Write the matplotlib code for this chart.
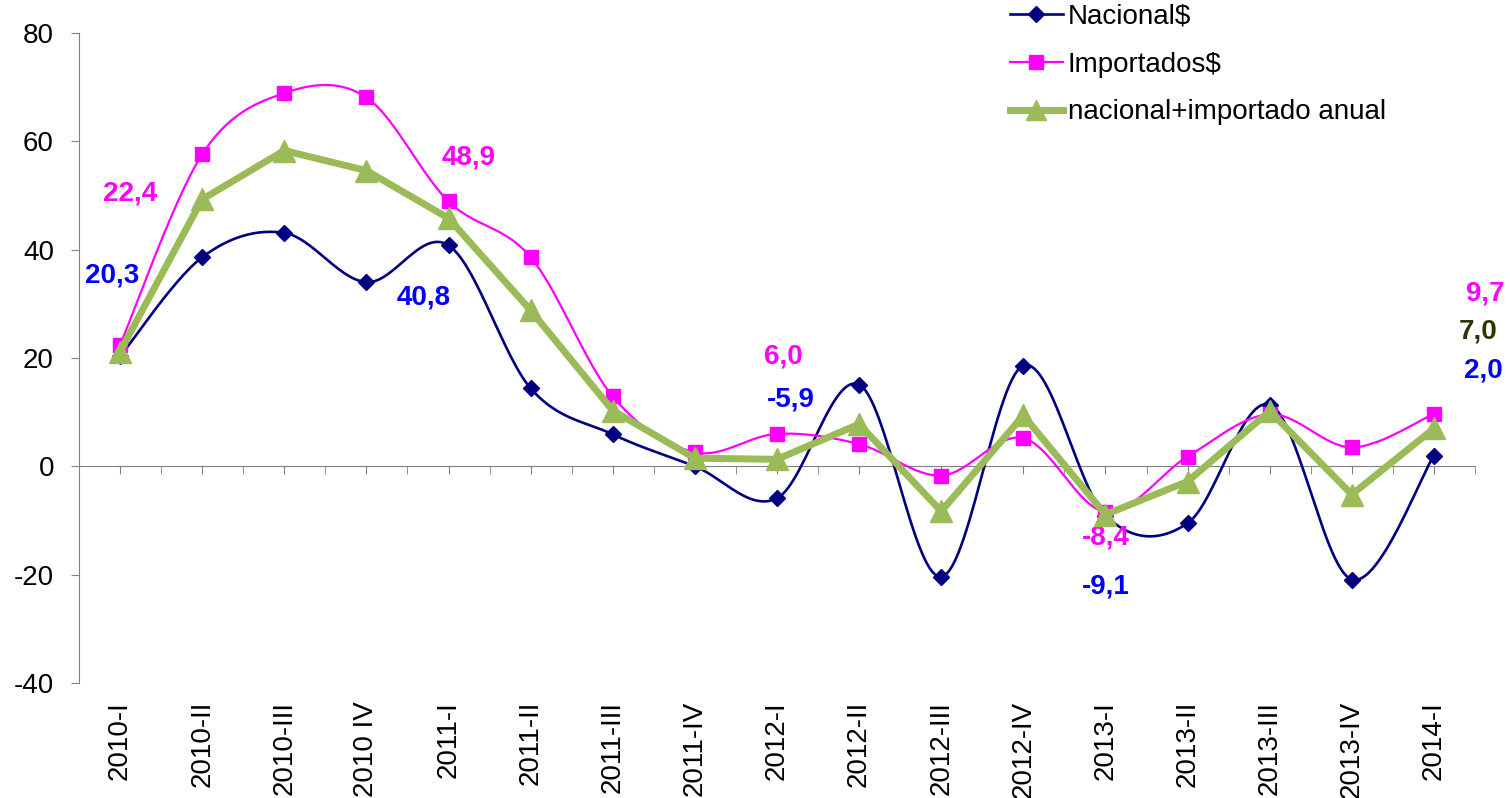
import matplotlib
matplotlib.use("Agg")
from matplotlib import pyplot as plt
import numpy as np

plt.rcParams['font.family'] = ['Liberation Sans', 'DejaVu Sans']
plt.rcParams['axes.unicode_minus'] = False

quarters = ["2010-I", "2010-II", "2010-III", "2010 IV", "2011-I", "2011-II", "2011-III",
            "2011-IV", "2012-I", "2012-II", "2012-III", "2012-IV", "2013-I", "2013-II",
            "2013-III", "2013-IV", "2014-I"]
nacional = [20.3, 38.6, 43.1, 34.0, 40.8, 14.4, 5.9, 0.0, -5.9, 15.1, -20.4, 18.6,
            -9.1, -10.5, 11.4, -20.9, 2.0]
importados = [22.4, 57.6, 68.9, 68.1, 48.9, 38.6, 12.9, 2.6, 6.0, 4.1, -1.7, 5.2,
              -8.4, 1.8, 9.6, 3.5, 9.7]
anual = [21.2, 49.3, 58.3, 54.6, 45.8, 28.8, 10.3, 1.5, 1.3, 7.8, -8.3, 9.4,
         -8.9, -2.8, 10.2, -5.2, 7.0]

# value labels: (index, text, x offset, y position) in data units
labels_nac = [(0, "20,3", -0.1, 35.3), (4, "40,8", -0.3, 31.2), (8, "-5,9", 0.17, 12.4),
              (12, "-9,1", 0.0, -22.2), (16, "2,0", 0.6, 17.7)]
labels_imp = [(0, "22,4", 0.12, 50.4), (4, "48,9", 0.25, 57.0), (8, "6,0", 0.08, 20.3),
              (12, "-8,4", 0.0, -13.1), (16, "9,7", 0.62, 31.9)]
labels_anu = [(16, "7,0", 0.54, 24.9)]


def excel_smooth(y, n=30):
    # Excel-like smoothed line: cubic bezier with catmull-rom control points
    x = np.arange(len(y), dtype=float)
    y = np.asarray(y, dtype=float)
    xs, ys = [], []
    for i in range(len(y) - 1):
        x0, y0 = x[i], y[i]
        x3, y3 = x[i + 1], y[i + 1]
        xp, yp = (x[i - 1], y[i - 1]) if i > 0 else (x0, y0)
        xn, yn = (x[i + 2], y[i + 2]) if i + 2 < len(y) else (x3, y3)
        x1, y1 = x0 + (x3 - xp) / 6, y0 + (y3 - yp) / 6
        x2, y2 = x3 - (xn - x0) / 6, y3 - (yn - y0) / 6
        t = np.linspace(0, 1, n)
        xs.append((1 - t)**3 * x0 + 3 * (1 - t)**2 * t * x1 + 3 * (1 - t) * t**2 * x2 + t**3 * x3)
        ys.append((1 - t)**3 * y0 + 3 * (1 - t)**2 * t * y1 + 3 * (1 - t) * t**2 * y2 + t**3 * y3)
    return np.concatenate(xs), np.concatenate(ys)


fig = plt.figure(figsize=(15.1, 7.98), dpi=100)
ax = fig.add_axes([79 / 1510, 1 - 683 / 798, (1475 - 79) / 1510, 650 / 798])

# spine position first: it resets the ticks
ax.spines["bottom"].set_position(("data", 0))
ax.spines["bottom"].set_color("#808080")
ax.spines["left"].set_color("#808080")
ax.spines["top"].set_visible(False)
ax.spines["right"].set_visible(False)

x = np.arange(len(quarters))
navy = "#000080"
mag = "#FF00FF"
green = "#9BBB59"

sx, sy = excel_smooth(nacional)
ax.plot(sx, sy, color=navy, lw=1.9, zorder=3)
ax.plot(x, nacional, ls="none", marker="D", ms=8, color=navy, zorder=4)
sx, sy = excel_smooth(importados)
ax.plot(sx, sy, color=mag, lw=1.6, zorder=3)
ax.plot(x, importados, ls="none", marker="s", ms=10, color=mag, zorder=4)
ax.plot(x, anual, color=green, lw=5, marker="^", ms=16, zorder=5)

# legend proxies
h1, = ax.plot([], [], color=navy, lw=1.9, marker="D", ms=8, label="Nacional$")
h2, = ax.plot([], [], color=mag, lw=1.6, marker="s", ms=10, label="Importados$")
h3, = ax.plot([], [], color=green, lw=5, marker="^", ms=14, label="nacional+importado anual")
fig.legend(handles=[h1, h2, h3], loc="upper left", bbox_to_anchor=(1010 / 1510, 0.995),
           frameon=False, fontsize=20, handlelength=1.9, handletextpad=0.18,
           labelspacing=0.78, borderaxespad=0, borderpad=0)

lab_blue = "#0000FF"
for i, t, dx, yy in labels_nac:
    ax.text(i + dx, yy, t, color=lab_blue, fontsize=20, fontweight="bold",
            ha="center", va="center", clip_on=False)
for i, t, dx, yy in labels_imp:
    ax.text(i + dx, yy, t, color=mag, fontsize=20, fontweight="bold",
            ha="center", va="center", clip_on=False)
for i, t, dx, yy in labels_anu:
    ax.text(i + dx, yy, t, color="#333300", fontsize=20, fontweight="bold",
            ha="center", va="center", clip_on=False)

ax.set_xlim(-0.5, len(quarters) - 0.5)
ax.set_ylim(-40, 80)
ax.tick_params(axis="y", labelsize=20, length=6, color="#808080", direction="out", pad=12)
ax.tick_params(axis="x", which="both", length=6, color="#808080", direction="out", pad=163)
ax.set_yticks(range(-40, 81, 20))
ax.set_xticks(x)
ax.set_xticks(np.arange(-0.5, len(quarters), 1.0), minor=True)
ax.set_xticklabels(quarters, rotation=90, fontsize=20)

fig.savefig("out.png", dpi=100)
